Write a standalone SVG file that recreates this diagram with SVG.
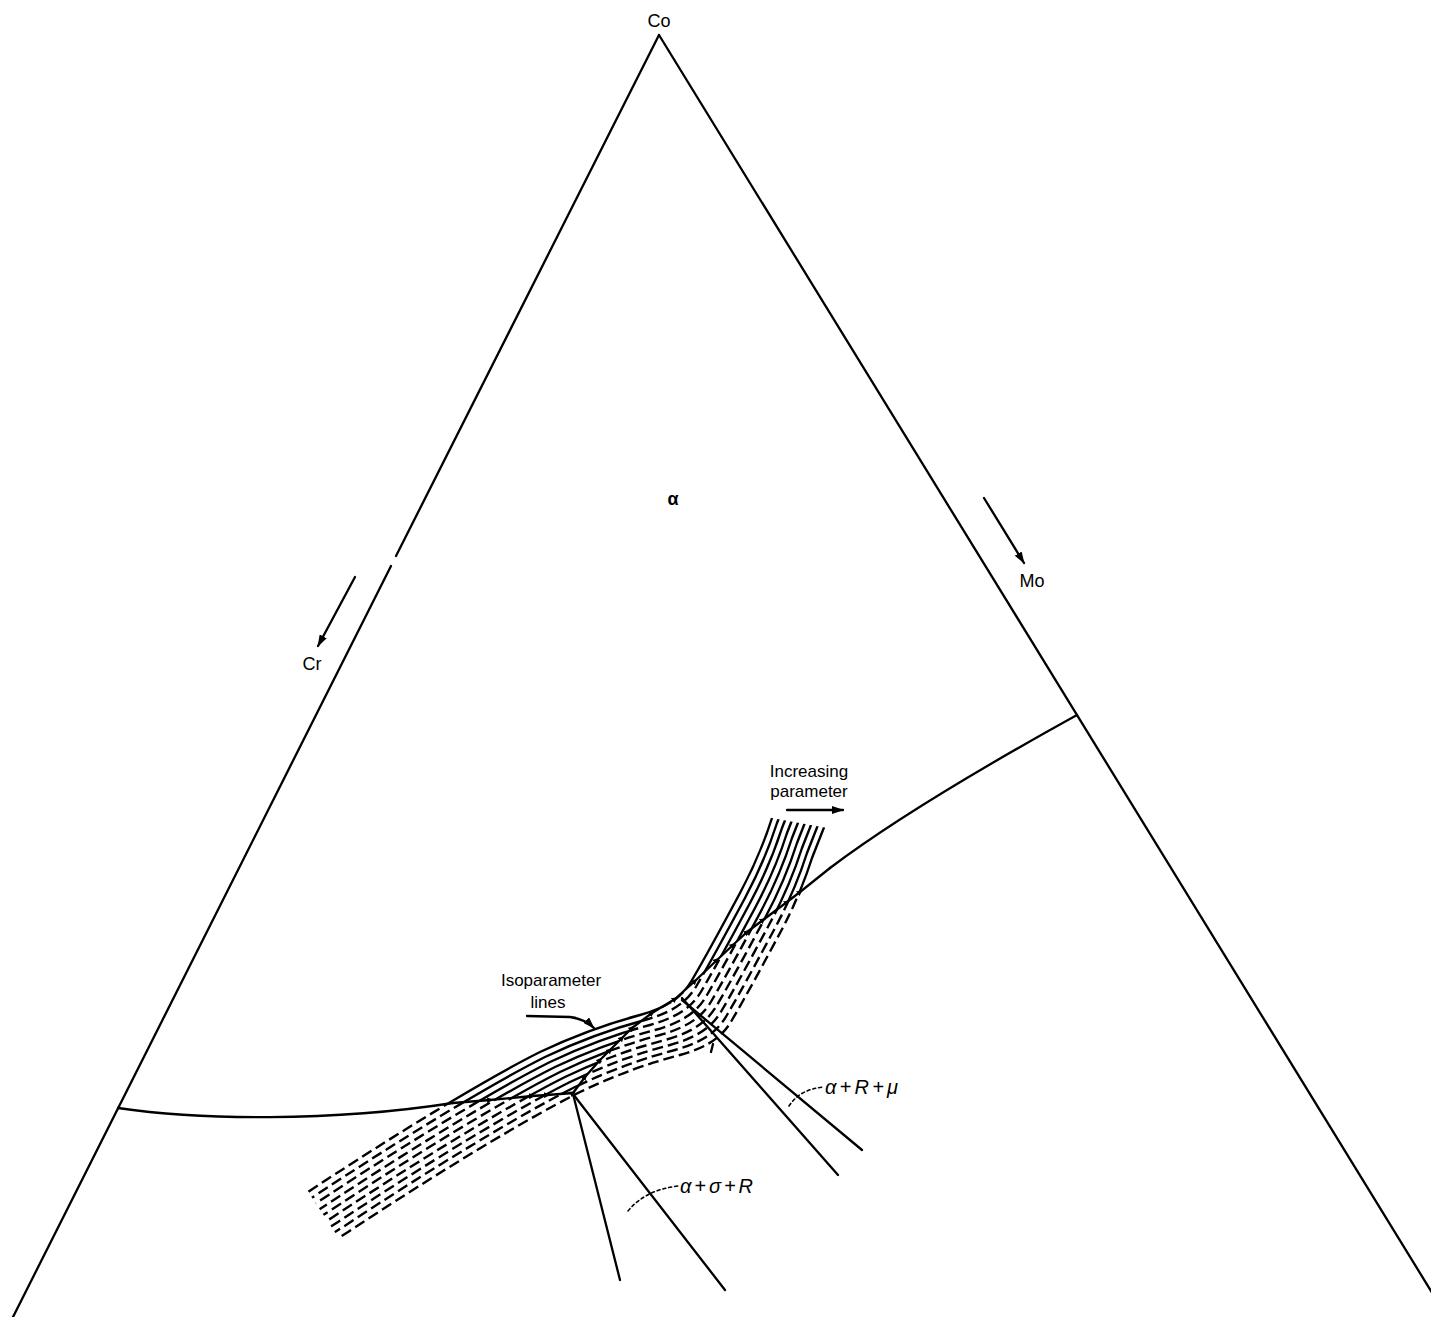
<svg xmlns="http://www.w3.org/2000/svg" width="1431" height="1317" viewBox="0 0 1431 1317">
<style>
.ln{fill:none;stroke:#000;stroke-width:2.3;stroke-linecap:round;stroke-linejoin:round}
.band{fill:none;stroke:#000;stroke-width:2.4}
.dash{stroke-dasharray:11 5}
.lead{fill:none;stroke:#000;stroke-width:1.6;stroke-dasharray:3 3}
text{font-family:"Liberation Sans",Arial,sans-serif;fill:#000}
.lbl{font-size:18px}
.sm{font-size:17px}
.ph{font-size:20px;font-style:italic}
</style>
<defs>
<marker id="ah" viewBox="0 0 12 8" refX="11" refY="4" markerWidth="12" markerHeight="8" markerUnits="userSpaceOnUse" orient="auto"><path d="M0,0 L12,4 L0,8 z" fill="#000"/></marker>
<marker id="tk" viewBox="0 0 6 6" refX="3" refY="3" markerWidth="6" markerHeight="6" markerUnits="userSpaceOnUse" orient="auto"><path d="M0,0 L6,3 L0,6 z" fill="#000"/></marker>
<path id="iso" d="M794,762 L772,818 C765,840 755,865 740,893 C725,921 705,958 692,980 C684,994 672,1006 640,1015 C610,1023 580,1033 540,1052 C500,1072 420,1118 308,1192 L260,1222"/>
<clipPath id="bandclip"><polygon points="600,787 1000,859 1000,1300 380,1300 247,1100"/></clipPath>
<clipPath id="alpha"><polygon points="0,0 1431,0 1431,600 1100,700 900,820 830,868 800,892 787,902 763,920 747,932 733,945 717,960 695,981 675,999 652,1013 632,1028 622,1038 610,1050 600,1060 585,1077 573,1093 547,1095 532,1096 490,1100 453,1103 300,1122 0,1112"/></clipPath>
<clipPath id="notalpha"><polygon points="0,1112 300,1122 453,1103 490,1100 532,1096 547,1095 573,1093 585,1077 600,1060 610,1050 622,1038 632,1028 652,1013 675,999 695,981 717,960 733,945 747,932 763,920 787,902 800,892 830,868 900,820 1100,700 1431,600 1431,1317 0,1317"/></clipPath>
</defs>

<g id="triangle" class="ln">
<path d="M659,35 L396,556 M391,566 L13,1317"/>
<path d="M659,35 L1447,1317"/>
</g>

<g id="isoparameter-lines" clip-path="url(#bandclip)">
<g clip-path="url(#alpha)" class="band">
<use href="#iso"/>
<use href="#iso" transform="translate(5,5)"/>
<use href="#iso" transform="translate(10,10)"/>
<use href="#iso" transform="translate(15,15)"/>
<use href="#iso" transform="translate(20,20)"/>
<use href="#iso" transform="translate(25,25)"/>
<use href="#iso" transform="translate(30,30)"/>
<use href="#iso" transform="translate(35,35)"/>
<use href="#iso" transform="translate(40,40)"/>
</g>
<g clip-path="url(#notalpha)" class="band dash">
<use href="#iso"/>
<use href="#iso" transform="translate(5,5)" style="stroke-dashoffset:6"/>
<use href="#iso" transform="translate(10,10)" style="stroke-dashoffset:2"/>
<use href="#iso" transform="translate(15,15)" style="stroke-dashoffset:9"/>
<use href="#iso" transform="translate(20,20)" style="stroke-dashoffset:4"/>
<use href="#iso" transform="translate(25,25)" style="stroke-dashoffset:11"/>
<use href="#iso" transform="translate(30,30)" style="stroke-dashoffset:7"/>
<use href="#iso" transform="translate(35,35)" style="stroke-dashoffset:1"/>
<use href="#iso" transform="translate(40,40)" style="stroke-dashoffset:8"/>
</g>
</g>

<g id="connectors" class="ln">
<path id="alpha-boundary-left" d="M118,1108 C200,1120 330,1122 453,1103"/>
<polyline id="alpha-boundary-band" points="453,1103 490,1100 532,1096 547,1095 573,1093 585,1077 600,1060 610,1050 622,1038 632,1028 652,1013 675,999 695,981 717,960 733,945 747,932 763,920 787,902 800,892 830,868" marker-mid="url(#tk)"/>
<path id="alpha-boundary-right" d="M830,868 C900,815 1010,752 1077,715"/>
<line x1="573" y1="1094" x2="620" y2="1280"/>
<line x1="573" y1="1094" x2="725" y2="1290"/>
<line x1="682" y1="998" x2="838" y2="1175"/>
<line x1="682" y1="1000" x2="862" y2="1150"/>
<line x1="713" y1="1044" x2="711" y2="1052"/>
<line x1="355" y1="577" x2="318" y2="646" marker-end="url(#ah)"/>
<line x1="984" y1="498" x2="1024" y2="563" marker-end="url(#ah)"/>
<line x1="787" y1="810" x2="843" y2="810" marker-end="url(#ah)"/>
<path d="M527,1016 L570,1017 Q585,1019 594,1028" marker-end="url(#ah)"/>
<path class="lead" d="M789,1106 Q800,1089 824,1087"/>
<path class="lead" d="M628,1211 Q645,1190 678,1186"/>
</g>

<g id="labels">
<text class="lbl" x="659" y="27" text-anchor="middle">Co</text>
<text class="lbl" x="312" y="670" text-anchor="middle">Cr</text>
<text class="lbl" x="1032" y="587" text-anchor="middle">Mo</text>
<text class="lbl" x="673" y="505" text-anchor="middle" font-weight="bold">α</text>
<text class="sm" x="809" y="777" text-anchor="middle">Increasing</text>
<text class="sm" x="809" y="797" text-anchor="middle">parameter</text>
<text class="sm" x="551" y="986" text-anchor="middle">Isoparameter</text>
<text class="sm" x="548" y="1008" text-anchor="middle">lines</text>
<text class="ph" x="825" y="1094" textLength="73" lengthAdjust="spacing">α+R+μ</text>
<text class="ph" x="680" y="1193" textLength="73" lengthAdjust="spacing">α+σ+R</text>
</g>
</svg>
